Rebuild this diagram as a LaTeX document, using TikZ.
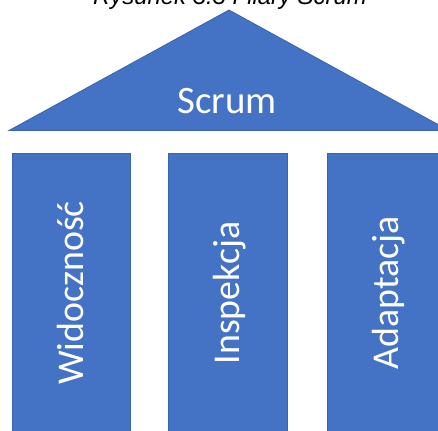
\documentclass[tikz,border=0pt]{standalone}
\usepackage{fontspec}
\setmainfont{Carlito}
\newfontfamily\captionfont{Liberation Sans}
\definecolor{scrumblue}{HTML}{4472C4}
\definecolor{scrumedge}{HTML}{3A63AD}
\begin{document}
\begin{tikzpicture}[x=1bp,y=1bp,
  roof/.style={fill=scrumblue,draw=scrumedge,line width=0.8bp},
  pillar/.style={fill=scrumblue,draw=scrumedge,line width=0.8bp},
  pillartext/.style={text=white,font=\fontsize{38}{40}\selectfont,rotate=90,inner sep=0pt,anchor=base},
  rooftext/.style={text=white,font=\fontsize{39}{41}\selectfont,inner sep=0pt,anchor=base},
  captiontext/.style={font=\captionfont\itshape\fontsize{24}{26}\selectfont,inner sep=0pt,anchor=base}]
\useasboundingbox (0,0) rectangle (438,-430);
\clip (0,0) rectangle (438,-430);
% caption, partly above the page edge
\node[captiontext] (caption) at (230,-4) {Rysunek 3.3 Filary Scrum};
% roof
\draw[roof] (229,-10) -- (449,-130.5) -- (9,-130.5) -- cycle;
\node[rooftext] (scrum) at (227,-113) {Scrum};
% pillars
\draw[pillar] (12.5,-153.5) rectangle (130,-445);
\draw[pillar] (168,-153.5) rectangle (287,-445);
\draw[pillar] (327,-153.5) rectangle (446,-445);
\node[pillartext] (widocznosc) at (83,-293) {Widoczność};
\node[pillartext] (inspekcja) at (239,-293) {Inspekcja};
\node[pillartext] (adaptacja) at (398,-293) {Adaptacja};
\end{tikzpicture}
\end{document}
